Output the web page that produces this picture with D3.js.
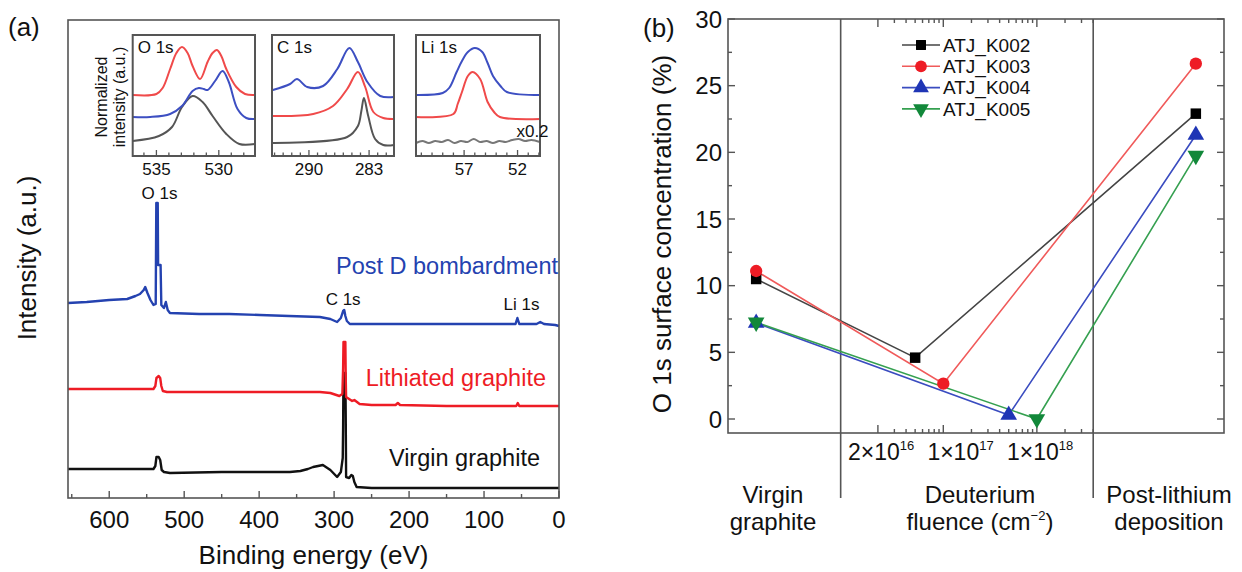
<!DOCTYPE html>
<html><head><meta charset="utf-8">
<script src="https://cdn.jsdelivr.net/npm/d3@7"></script>
<style>
body{margin:0;background:#fff}
text{font-family:"Liberation Sans",Arial,Helvetica,sans-serif;fill:#111}
</style></head>
<body><svg id="c" width="1242" height="572"></svg>
<script>
// ---------------- DATA ----------------
// Panel (a) survey spectra: [binding energy eV, intensity a.u.]
const surveyTicks = [600,500,400,300,200,100,0];
const surveyPostD = [[655,1.95],[630,1.96],[600,1.98],[576,1.99],[565,2.02],[559,2.04],[554,2.08],[552,2.11],[549,2.05],[545,1.98],[541,1.93],[538,1.94],[537.2,2.95],[535.3,2.95],[534.8,2.33],[531.5,2.33],[530.5,1.93],[527,1.90],[524.5,1.96],[522,1.88],[519,1.85],[480,1.84],[440,1.84],[399,1.83],[360,1.82],[319,1.81],[305,1.79],[296,1.76],[291,1.80],[288,1.87],[286.5,1.88],[285,1.82],[283,1.77],[279,1.74],[275,1.74],[200,1.74],[120,1.74],[58,1.74],[55.5,1.80],[53,1.74],[30,1.74],[25,1.76],[20,1.74],[5,1.73],[0,1.72]];
const surveyLithiated = [[655,1.09],[600,1.09],[560,1.09],[541,1.09],[538.5,1.12],[537,1.20],[534,1.22],[532,1.20],[530.5,1.12],[528.5,1.07],[523,1.06],[450,1.06],[380,1.06],[319,1.06],[305,1.05],[293,1.02],[289,1.04],[288,1.30],[287.5,1.56],[285,1.56],[284.5,1.20],[284,1.01],[280,0.99],[276,0.97],[273,0.98],[266,0.94],[250,0.93],[218,0.93],[215,0.95],[212,0.93],[150,0.92],[57,0.92],[55,0.95],[53,0.92],[0,0.92]];
const surveyVirgin = [[655,0.29],[600,0.29],[541,0.29],[538.5,0.32],[537,0.41],[534,0.41],[532,0.38],[530,0.28],[527,0.26],[519,0.25],[450,0.26],[400,0.26],[359,0.26],[345,0.27],[335,0.29],[328,0.31],[315,0.33],[305,0.28],[296,0.21],[291,0.26],[288.5,0.40],[288,0.70],[287.5,1.25],[285,1.25],[284.5,0.80],[284,0.21],[280,0.20],[277,0.23],[275,0.22],[273,0.16],[270,0.11],[250,0.10],[200,0.10],[100,0.10],[0,0.10]];

// Insets: normalized intensity
const o1sTicks = [535,530];
const o1sLithiated = [[536.9,0.61],[535.0,0.62],[534.5,0.68],[533.9,0.87],[533.4,1.03],[532.95,1.09],[532.5,1.03],[532.1,0.90],[531.5,0.77],[530.9,0.94],[530.5,1.03],[530.15,1.06],[529.8,1.00],[529.4,0.87],[528.6,0.69],[527.9,0.62],[527.1,0.61]];
const o1sPostD = [[536.9,0.39],[535.5,0.39],[533.9,0.42],[532.95,0.50],[532.1,0.65],[531.6,0.68],[531.2,0.67],[530.9,0.66],[530.3,0.75],[529.7,0.85],[529.2,0.74],[528.5,0.47],[527.8,0.38],[527.1,0.37]];
const o1sVirgin = [[536.9,0.15],[534.8,0.20],[533.75,0.29],[532.95,0.49],[532.1,0.60],[531.3,0.54],[530.5,0.40],[529.4,0.22],[528.35,0.12],[527.1,0.12]];

const c1sTicks = [290,283];
const c1sPostD = [[294.2,0.66],[292.2,0.72],[291.4,0.77],[290.2,0.69],[288.35,0.70],[286.7,0.87],[285.3,1.08],[284.3,0.94],[283.2,0.74],[281.7,0.60],[280.1,0.59]];
const c1sLithiated = [[294.3,0.40],[289.5,0.42],[287.2,0.50],[285.55,0.67],[284.3,0.84],[283.45,0.69],[282.5,0.44],[281.35,0.38],[280.1,0.37]];
const c1sVirgin = [[294.3,0.13],[285.55,0.19],[284.3,0.30],[283.9,0.45],[283.6,0.58],[283.1,0.40],[282.3,0.17],[281.35,0.11],[280.1,0.11]];

const li1sTicks = [57,52];
const li1sPostD = [[61.5,0.61],[59.0,0.63],[58.4,0.68],[57.7,0.84],[57.2,0.95],[56.65,1.04],[56.0,1.08],[55.3,1.04],[54.8,0.93],[54.3,0.80],[53.6,0.70],[53.0,0.64],[49.9,0.61]];
const li1sLithiated = [[61.5,0.39],[58.0,0.42],[57.6,0.52],[57.2,0.64],[56.65,0.80],[56.2,0.84],[55.5,0.77],[54.8,0.54],[54.2,0.44],[53.65,0.39],[49.9,0.37]];
const li1sVirgin = [[61.5,0.13],[60.9,0.15],[60.3,0.13],[59.7,0.15],[59.1,0.14],[58.5,0.16],[57.9,0.13],[57.3,0.15],[56.7,0.14],[56.1,0.17],[55.5,0.14],[54.9,0.15],[54.3,0.13],[53.7,0.15],[53.1,0.14],[52.5,0.16],[51.9,0.17],[51.3,0.15],[50.7,0.16],[49.9,0.14]];

// Panel (b)
const samples = ["ATJ_K002","ATJ_K003","ATJ_K004","ATJ_K005"];
const virginO = [10.5,11.1,7.2,7.25];
const fluence = [5e16,1e17,5e17,1e18];
const bombardedO = [4.6,2.65,0.3,0.0];
const postLiO = [22.9,26.65,21.3,19.75];
const categoryAnchor = [1e15,5e19];       // where the two categorical stages sit on the log axis
const sectionBounds = [8e15,4e18];
const yTicksB = [0,5,10,15,20,25,30];
const fluenceLabels = [[2,16],[1,17],[1,18]];

// ---------------- DRAW ----------------
const svg = d3.select("#c");
const GREY = "#555";

// ===== Panel (a) =====
const ax = d3.scaleLinear().domain([655,0]).range([68,559]);
const ay = d3.scaleLinear().domain([0,4.78]).range([498,20]);
const ga = svg.append("g");
const lineA = d3.line().x(d=>ax(d[0])).y(d=>ay(d[1]));
[[surveyVirgin,"#111"],[surveyLithiated,"#ee1c25"],[surveyPostD,"#2442b0"]].forEach(([d,c])=>{
  ga.append("path").attr("d",lineA(d)).attr("fill","none").attr("stroke",c).attr("stroke-width",2.4).attr("stroke-linejoin","round");
});
ga.append("rect").attr("x",ax(655)).attr("y",ay(4.78)).attr("width",ax(0)-ax(655)).attr("height",ay(0)-ay(4.78))
  .attr("fill","none").attr("stroke",GREY).attr("stroke-width",1.6);
d3.range(0,651,50).forEach(v=>{
  ga.append("line").attr("x1",ax(v)).attr("x2",ax(v)).attr("y1",ay(0)).attr("y2",ay(0)-(v%100===0?7:4))
    .attr("stroke",GREY).attr("stroke-width",1.4);
});
surveyTicks.forEach(v=>{
  ga.append("text").attr("x",ax(v)).attr("y",528).attr("text-anchor","middle").attr("font-size",24).text(v);
});
ga.append("text").attr("x",ax(327.5)).attr("y",564).attr("text-anchor","middle").attr("font-size",26).text("Binding energy (eV)");
ga.append("text").attr("transform","translate(27,258) rotate(-90)").attr("text-anchor","middle").attr("dy","0.35em").attr("font-size",26).text("Intensity (a.u.)");
ga.append("text").attr("x",8).attr("y",36).attr("font-size",26).text("(a)");
ga.append("text").attr("x",ax(533)).attr("y",199).attr("text-anchor","middle").attr("font-size",17).text("O 1s");
ga.append("text").attr("x",ax(288)).attr("y",305).attr("text-anchor","middle").attr("font-size",17).text("C 1s");
ga.append("text").attr("x",ax(50)).attr("y",310).attr("text-anchor","middle").attr("font-size",17).text("Li 1s");
ga.append("text").attr("x",558).attr("y",274).attr("text-anchor","end").attr("font-size",23.5).style("fill","#2442b0").text("Post D bombardment");
ga.append("text").attr("x",546).attr("y",386).attr("text-anchor","end").attr("font-size",23.5).style("fill","#ee1c25").text("Lithiated graphite");
ga.append("text").attr("x",540).attr("y",466).attr("text-anchor","end").attr("font-size",23.5).style("fill","#111").text("Virgin graphite");

// Insets
const iy = d3.scaleLinear().domain([0,1.21]).range([156,35]);
function inset(x0,x1,dom,ticks,series,label){
  const sx = d3.scaleLinear().domain(dom).range([x0,x1]);
  const g = svg.append("g");
  const ln = d3.line().x(d=>sx(d[0])).y(d=>iy(d[1])).curve(d3.curveCatmullRom.alpha(0.5));
  series.forEach(([d,c])=>g.append("path").attr("d",ln(d)).attr("fill","none").attr("stroke",c).attr("stroke-width",2));
  g.append("rect").attr("x",x0).attr("y",35).attr("width",x1-x0).attr("height",121).attr("fill","none").attr("stroke",GREY).attr("stroke-width",2);
  const lo=Math.ceil(Math.min(dom[0],dom[1])), hi=Math.floor(Math.max(dom[0],dom[1]));
  d3.range(lo,hi+1).forEach(v=>{
    const maj = ticks.includes(v);
    g.append("line").attr("x1",sx(v)).attr("x2",sx(v)).attr("y1",156).attr("y2",156-(maj?6:3.5)).attr("stroke",GREY).attr("stroke-width",1.3);
  });
  ticks.forEach(v=>g.append("text").attr("x",sx(v)).attr("y",175).attr("text-anchor","middle").attr("font-size",17).text(v));
  g.append("text").attr("x",x0+5).attr("y",53).attr("font-size",17).text(label);
  return sx;
}
const RED2="#f04a4a", BLUE2="#3d4fc2", GRY2="#555";
inset(132.7,255,[536.9,527.1],o1sTicks,[[o1sVirgin,GRY2],[o1sPostD,BLUE2],[o1sLithiated,RED2]],"O 1s");
inset(272,394,[294.3,280.1],c1sTicks,[[c1sVirgin,GRY2],[c1sLithiated,RED2],[c1sPostD,BLUE2]],"C 1s");
const liX = inset(416,540,[61.5,49.9],li1sTicks,[[li1sVirgin,"#777"],[li1sLithiated,RED2],[li1sPostD,BLUE2]],"Li 1s");
svg.append("text").attr("x",liX(50.6)).attr("y",137).attr("text-anchor","middle").attr("font-size",17).text("x0.2");
svg.append("text").attr("transform","translate(107,97) rotate(-90)").attr("text-anchor","middle").attr("font-size",16).text("Normalized");
svg.append("text").attr("transform","translate(125,97) rotate(-90)").attr("text-anchor","middle").attr("font-size",16).text("intensity (a.u.)");

// ===== Panel (b) =====
const bx = d3.scaleLog().domain([5e14,1e20]).range([728,1224]);
const by = d3.scaleLinear().domain([-1.05,30]).range([433,19]);
const gb = svg.append("g");
gb.append("rect").attr("x",bx(5e14)).attr("y",by(30)).attr("width",bx(1e20)-bx(5e14)).attr("height",by(-1.05)-by(30))
  .attr("fill","none").attr("stroke",GREY).attr("stroke-width",1.6);
sectionBounds.forEach(v=>gb.append("line").attr("x1",bx(v)).attr("x2",bx(v)).attr("y1",by(30)).attr("y2",498).attr("stroke",GREY).attr("stroke-width",1.6));
// y ticks
d3.range(0,30.01,2.5).forEach(v=>{
  const maj = v%5===0, L = maj?7:4;
  gb.append("line").attr("x1",bx(5e14)).attr("x2",bx(5e14)+L).attr("y1",by(v)).attr("y2",by(v)).attr("stroke",GREY).attr("stroke-width",1.4);
  gb.append("line").attr("x1",bx(1e20)).attr("x2",bx(1e20)-L).attr("y1",by(v)).attr("y2",by(v)).attr("stroke",GREY).attr("stroke-width",1.4);
});
yTicksB.forEach(v=>gb.append("text").attr("x",722).attr("y",by(v)).attr("dy","0.36em").attr("text-anchor","end").attr("font-size",24).text(v));
// log ticks in the fluence section
const logTicks = [];
[16,17,18].forEach(e=>d3.range(1,10).forEach(m=>{const v=m*Math.pow(10,e); if(v>=2e16 && v<=4e18) logTicks.push(v);}));
const majorLog = fluenceLabels.map(([m,e])=>m*Math.pow(10,e));
logTicks.forEach(v=>{
  const maj = majorLog.some(t=>Math.abs(t-v)/v<1e-6), L = maj?8:4;
  gb.append("line").attr("x1",bx(v)).attr("x2",bx(v)).attr("y1",by(-1.05)).attr("y2",by(-1.05)-L).attr("stroke",GREY).attr("stroke-width",1.4);
  gb.append("line").attr("x1",bx(v)).attr("x2",bx(v)).attr("y1",by(30)).attr("y2",by(30)+L).attr("stroke",GREY).attr("stroke-width",1.4);
});
fluenceLabels.forEach(([m,e],i)=>{
  const t = gb.append("text").attr("y",460).attr("font-size",23);
  t.append("tspan").text(m+"×10");
  t.append("tspan").attr("font-size",13).attr("dy",-10).text(e);
  const main = t.select("tspan").node().getComputedTextLength();
  const shift = i===1?10:(i===0?-4:-4);
  t.attr("x",bx(m*Math.pow(10,e))-main/2+shift);
});
// category labels
const catY=[503,530];
[[["Virgin","graphite"],773],[["Deuterium",null],980],[["Post-lithium","deposition"],1169]].forEach(([lines,x])=>{
  gb.append("text").attr("x",x).attr("y",catY[0]).attr("text-anchor","middle").attr("font-size",24).text(lines[0]);
  if(lines[1]) gb.append("text").attr("x",x).attr("y",catY[1]).attr("text-anchor","middle").attr("font-size",24).text(lines[1]);
});
{
  const t = gb.append("text").attr("x",980).attr("y",catY[1]).attr("text-anchor","middle").attr("font-size",24);
  t.append("tspan").text("fluence (cm");
  t.append("tspan").attr("font-size",13).attr("dy",-10).text("−2");
  t.append("tspan").attr("dy",10).text(")");
}
gb.append("text").attr("transform","translate(662,234) rotate(-90)").attr("text-anchor","middle").attr("dy","0.35em").attr("font-size",26).text("O 1s surface concentration (%)");
gb.append("text").attr("x",643).attr("y",37).attr("font-size",26).text("(b)");

// series
const markerCol = ["#000","#ee1c25","#1f35b5","#12883a"];
const lineCol = ["#444","#f05a5a","#3a4cc0","#35a050"];
const symbols = [[d3.symbolSquare,0,110],[d3.symbolCircle,0,120],[d3.symbolTriangle,0,120],[d3.symbolTriangle,180,120]];
const lineB = d3.line().x(d=>bx(d[0])).y(d=>by(d[1]));
samples.forEach((s,i)=>{
  const pts = [[categoryAnchor[0],virginO[i]],[fluence[i],bombardedO[i]],[categoryAnchor[1],postLiO[i]]];
  gb.append("path").attr("d",lineB(pts)).attr("fill","none").attr("stroke",lineCol[i]).attr("stroke-width",1.6);
});
samples.forEach((s,i)=>{
  const pts = [[categoryAnchor[0],virginO[i]],[fluence[i],bombardedO[i]],[categoryAnchor[1],postLiO[i]]];
  const [type,rot,size] = symbols[i];
  pts.forEach(p=>gb.append("path").attr("d",d3.symbol().type(type).size(size)())
    .attr("transform",`translate(${bx(p[0])},${by(p[1])}) rotate(${rot})`).attr("fill",markerCol[i]));
});
// legend
samples.forEach((s,i)=>{
  const y = 45+i*21.3;
  gb.append("line").attr("x1",902).attr("x2",940).attr("y1",y).attr("y2",y).attr("stroke",lineCol[i]).attr("stroke-width",1.6);
  const [type,rot,size] = symbols[i];
  gb.append("path").attr("d",d3.symbol().type(type).size(size*0.9)()).attr("transform",`translate(921,${y}) rotate(${rot})`).attr("fill",markerCol[i]);
  gb.append("text").attr("x",943).attr("y",y).attr("dy","0.36em").attr("font-size",19).text(s);
});
</script></body></html>
